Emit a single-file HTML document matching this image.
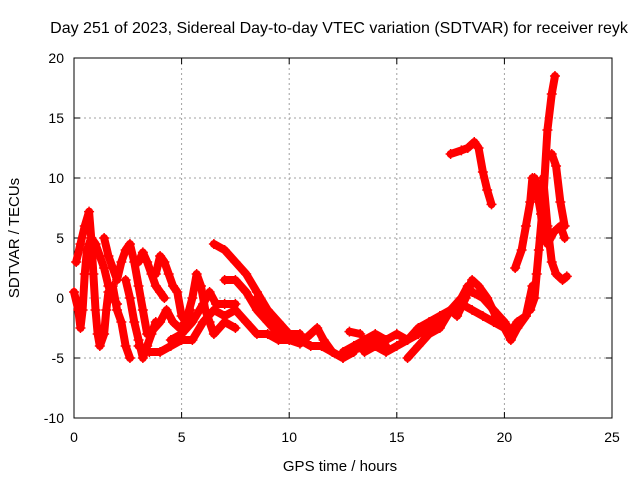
<!DOCTYPE html>
<html><head><meta charset="utf-8"><style>
body{margin:0;background:#fff}
svg{display:block;font-family:"Liberation Sans",sans-serif}
</style></head><body>
<svg id="chart" width="640" height="480" viewBox="0 0 640 480">
<rect width="640" height="480" fill="#fff"/>
<text x="339" y="33" font-size="16" text-anchor="middle">Day 251 of 2023, Sidereal Day-to-day VTEC variation (SDTVAR) for receiver reyk</text>
<g id="grid"></g>
<g id="axes"></g>
<g id="series"></g>
<text x="340" y="471" font-size="15" text-anchor="middle">GPS time / hours</text>
<text x="0" y="0" font-size="15" text-anchor="middle" transform="translate(19,238) rotate(-90)">SDTVAR / TECUs</text>
</svg>
<script>
const xTicks=[0,5,10,15,20,25];
const yTicks=[-10,-5,0,5,10,15,20];
const tracks=[
[[0,0.5],[0.2,-1],[0.3,-2.5],[0.4,-1],[0.5,2],[0.6,4],[0.8,5],[1.0,4.5],[1.2,3.5],[1.4,2.5],[1.6,1],[1.8,0],[2.0,-0.5]],
[[0.1,3],[0.3,4.5],[0.5,6],[0.7,7.2],[0.8,5],[0.9,2],[1.0,-1],[1.1,-3],[1.2,-4],[1.4,-3],[1.5,-1],[1.6,0.5],[1.8,1],[2.0,-1],[2.2,-2],[2.4,-4],[2.6,-5]],
[[1.4,5],[1.6,3.5],[1.8,2.5],[2.0,1.5],[2.2,3],[2.4,4],[2.6,4.5],[2.8,3],[3.0,1],[3.2,-1],[3.4,-3]],
[[2.4,1.5],[2.6,0],[2.8,-2],[3.0,-3.5],[3.2,-5],[3.4,-4],[3.6,-3],[3.8,-2]],
[[3.0,3],[3.2,3.8],[3.4,3],[3.6,2],[3.8,1],[4.0,0.5],[4.2,0]],
[[3.8,2],[4.0,3.5],[4.2,3],[4.4,2],[4.6,1],[4.8,0.5],[5.0,-1.5],[5.2,-2],[5.4,-1]],
[[3.0,-4],[3.5,-4.5],[4.0,-4.5],[4.5,-4],[5.0,-3.5],[5.5,-3.5],[6.0,-2],[6.5,-1],[7.0,-1.5],[7.5,-1],[8.0,-2],[8.5,-3],[9.0,-3],[9.5,-3.5],[10.0,-3.5],[10.5,-3.5],[11,-4]],
[[3.5,-3],[4.0,-2],[4.3,-1],[4.6,-2],[4.9,-2.5],[5.2,-2],[5.5,0],[5.7,2],[5.9,1],[6.1,-1],[6.3,-2],[6.5,-3],[7.0,-2],[7.5,-2.5]],
[[4.5,-3.5],[5.0,-3],[5.5,-2],[6.0,-0.5],[6.3,0.5],[6.6,-0.5],[7.0,-0.5],[7.5,-0.5]],
[[6.5,4.5],[7.0,4],[7.5,3],[8.0,2],[8.5,0.5],[9.0,-1],[9.5,-2],[10,-3],[10.5,-3.5],[11,-4],[11.5,-4],[12,-4.5],[12.5,-5],[13,-4.5]],
[[7.0,1.5],[7.5,1.5],[8.0,0.5],[8.5,-1],[9,-2],[9.5,-3],[10,-3.5],[10.5,-3.8],[11,-3],[11.3,-2.5],[11.6,-3.5],[12,-4.5],[12.5,-5],[13,-4.3],[13.5,-4],[14,-3.5],[14.5,-4]],
[[8.5,0],[9,-1.5],[9.5,-2.5],[10,-3],[10.5,-3]],
[[12.8,-2.8],[13.3,-3]],
[[12.5,-4.5],[13,-4],[13.5,-3.5],[14,-3],[14.5,-3.5],[15,-3],[15.5,-3.5],[16,-2.5],[16.5,-2],[17,-1.5],[17.5,-1],[18,0],[18.3,1],[18.5,0.5],[19,0],[19.5,-1],[20,-2]],
[[13.5,-4.5],[14,-4],[14.5,-4.5],[15,-4],[15.5,-3.5],[16,-3],[16.5,-2.5],[17,-2],[17.5,-1],[18,-0.5],[18.5,-1],[19,-1.5],[19.5,-2],[20,-2.5],[20.3,-3.5],[20.6,-2.5],[21,-1.5],[21.3,1]],
[[15.5,-5],[16,-4],[16.5,-3],[17,-2.5],[17.5,-1],[17.8,-1.5],[18.2,0],[18.5,1.5],[18.8,1],[19.2,0],[19.6,-1.5],[20,-2],[20.3,-2.8],[20.6,-2],[21,-1.5]],
[[17.5,12],[18,12.3],[18.3,12.5],[18.6,13],[18.8,12.5],[19.0,10.5],[19.2,9],[19.4,7.8]],
[[20.5,2.5],[20.8,4],[21,6],[21.2,8],[21.3,10],[21.5,9],[21.7,7],[21.8,5]],
[[21.2,-1],[21.4,0],[21.5,2],[21.6,4],[21.8,8],[22,14],[22.2,17],[22.35,18.5]],
[[21.4,10],[21.6,9],[21.8,6],[22.0,4.5],[22.3,5.5],[22.6,6],[22.8,5]],
[[22.2,12],[22.4,11],[22.6,8],[22.8,6]],
[[21.8,10],[22.0,6],[22.2,3],[22.4,2],[22.7,1.5],[22.9,1.8]]
];
const X0=74,X1=612,Y0=418,Y1=58;
const xs=t=>X0+(t-0)/(25-0)*(X1-X0);
const ys=v=>Y0-(v+10)/(30)*(Y0-Y1);
const NS="http://www.w3.org/2000/svg";
function mk(tag,attrs,parent){const e=document.createElementNS(NS,tag);for(const k in attrs)e.setAttribute(k,attrs[k]);parent.appendChild(e);return e;}
const grid=document.getElementById('grid'),axes=document.getElementById('axes'),ser=document.getElementById('series');
xTicks.forEach(t=>{const x=xs(t);
 if(t>0&&t<25){const l=mk('line',{x1:x,x2:x,y1:Y1,y2:Y0,stroke:'#a0a0a0','stroke-dasharray':'2,3'},grid);
 
 }
 mk('line',{x1:x,x2:x,y1:Y0,y2:Y0-6,stroke:'#000'},axes);
 mk('line',{x1:x,x2:x,y1:Y1,y2:Y1+6,stroke:'#000'},axes);
 const tx=mk('text',{x:x,y:Y0+24,'font-size':14,'text-anchor':'middle'},axes);tx.textContent=t;
 
 
});
yTicks.forEach(v=>{const y=ys(v);
 if(v>-10&&v<20){const l=mk('line',{x1:X0,x2:X1,y1:y,y2:y,stroke:'#a0a0a0','stroke-dasharray':'2,3'},grid);
 
 }
 mk('line',{x1:X0,x2:X0+6,y1:y,y2:y,stroke:'#000'},axes);
 mk('line',{x1:X1,x2:X1-6,y1:y,y2:y,stroke:'#000'},axes);
 const tx=mk('text',{x:X0-10,y:y+5,'font-size':14,'text-anchor':'end'},axes);tx.textContent=v;
 
 
});
const fr=mk('rect',{x:X0,y:Y1,width:X1-X0,height:Y0-Y1,fill:'none',stroke:'#000'},axes);


tracks.forEach((tr,i)=>{
 const pl=mk('polyline',{points:tr.map(p=>xs(p[0])+','+ys(p[1])).join(' '),fill:'none',stroke:'#f00','stroke-width':8,'stroke-linejoin':'round','stroke-linecap':'round'},ser);
 
 
 tr.forEach(p=>{const x=xs(p[0]),y=ys(p[1]);
  const m=mk('path',{d:`M${x-5},${y}h10M${x},${y-5}v10`,stroke:'#f00','stroke-width':1.5},ser);
  
  
 });
});
</script>
</body></html>
